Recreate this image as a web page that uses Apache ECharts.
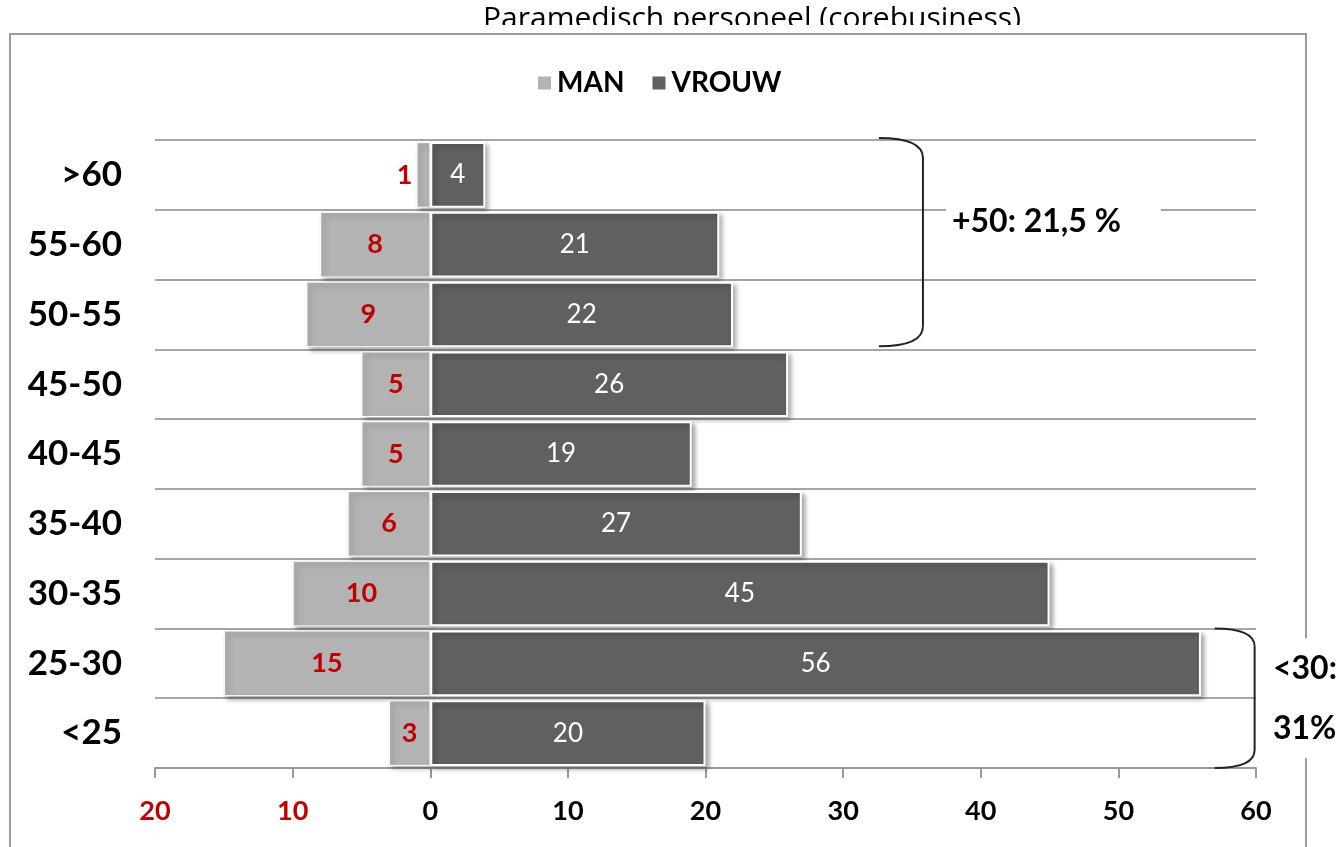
<!DOCTYPE html>
<html>
<head>
<meta charset="utf-8">
<style>
  html, body { margin: 0; padding: 0; background: #fff; }
  #chart { width: 1344px; height: 847px; }
</style>
<script src="https://cdn.jsdelivr.net/npm/echarts@6/dist/echarts.min.js"></script>
</head>
<body>
<div id="chart"></div>
<script>
var categories = ['>60', '55-60', '50-55', '45-50', '40-45', '35-40', '30-35', '25-30', '<25'];
var man = [1, 8, 9, 5, 5, 6, 10, 15, 3];
var vrouw = [4, 21, 22, 26, 19, 27, 45, 56, 20];
var xMin = -20, xMax = 60, xStep = 10;

var RED = '#c00000';
var FONT = 'Lato, "Open Sans", sans-serif';

var chart = echarts.init(document.getElementById('chart'));

var barShadow = {
    shadowColor: 'rgba(0,0,0,0.35)',
    shadowBlur: 5,
    shadowOffsetX: 3,
    shadowOffsetY: 3
};

var option = {
    animation: false,
    legend: {
        left: 531,
        top: 64,
        itemWidth: 15,
        itemHeight: 15,
        itemGap: 26,
        icon: 'rect',
        textStyle: { fontFamily: FONT, fontWeight: 'bold', fontSize: 28, color: '#000' },
        data: ['MAN', 'VROUW']
    },
    grid: { left: 155, right: 88, top: 140, bottom: 79, containLabel: false },
    xAxis: {
        type: 'value',
        min: xMin,
        max: xMax,
        interval: xStep,
        axisLine: { show: true, lineStyle: { color: '#9a9a9a', width: 2 } },
        axisTick: { show: true, length: 10, lineStyle: { color: '#9a9a9a', width: 2 } },
        splitLine: { show: false },
        axisLabel: {
            margin: 30,
            fontFamily: FONT,
            fontWeight: 'bold',
            fontSize: 27,
            formatter: function (v) { return Math.abs(v); },
            color: function (v) { return v < 0 ? RED : '#000'; }
        }
    },
    yAxis: {
        type: 'category',
        inverse: true,
        data: categories,
        axisLine: { show: false },
        axisTick: { show: false },
        splitLine: { show: true, lineStyle: { color: '#a6a6a6', width: 2 } },
        axisLabel: {
            margin: 33,
            fontFamily: FONT,
            fontWeight: 'bold',
            fontSize: 35,
            color: '#000'
        }
    },
    series: [
        {
            name: 'MAN',
            type: 'bar',
            barGap: '-100%',
            barCategoryGap: '6%',
            itemStyle: Object.assign({ color: '#b3b3b3', borderColor: '#fff', borderWidth: 1 }, barShadow),
            label: {
                show: true,
                position: 'inside',
                fontFamily: FONT,
                fontWeight: 'bold',
                fontSize: 27,
                color: RED,
                formatter: function (p) { return Math.abs(p.value); }
            },
            data: man.map(function (v) {
                var item = { value: -v };
                if (v < 2) item.label = { position: 'left', distance: 4 };
                return item;
            })
        },
        {
            name: 'VROUW',
            type: 'bar',
            barGap: '-100%',
            barCategoryGap: '6%',
            itemStyle: Object.assign({ color: '#606060', borderColor: '#fff', borderWidth: 2 }, barShadow),
            label: {
                show: true,
                position: 'inside',
                fontFamily: FONT,
                fontSize: 26,
                color: '#fff'
            },
            data: vrouw
        }
    ]
};

chart.setOption(option);

// decorations: frame, clipped title, brackets with notes
function xp(v) { return chart.convertToPixel({ xAxisIndex: 0 }, v); }
function yp(i) { return chart.convertToPixel({ yAxisIndex: 0 }, categories[i]); }

var band = yp(1) - yp(0);
function bandTop(i) { return yp(i) - band / 2; }
function bandBottom(i) { return yp(i) + band / 2; }

function brace(x0, x1, yTop, yBot, r) {
    var st = { fill: 'none', stroke: '#222', lineWidth: 2 };
    return [
        { type: 'bezierCurve', z: 5, silent: true, style: st,
          shape: { x1: x0, y1: yTop, cpx1: x1, cpy1: yTop, x2: x1, y2: yTop + r } },
        { type: 'line', z: 5, silent: true, style: st,
          shape: { x1: x1, y1: yTop + r, x2: x1, y2: yBot - r } },
        { type: 'bezierCurve', z: 5, silent: true, style: st,
          shape: { x1: x1, y1: yBot - r, cpx1: x1, cpy1: yBot, x2: x0, y2: yBot } }
    ];
}

var graphics = [
    {
        type: 'text', z: 1, silent: true,
        x: 752, y: 19,
        style: {
            text: 'Paramedisch personeel (corebusiness)',
            fontFamily: '"Open Sans", sans-serif',
            fontSize: 30,
            fill: '#000',
            align: 'center',
            verticalAlign: 'middle'
        }
    },
    {
        type: 'rect', z: 2, silent: true,
        shape: { x: 400, y: 25, width: 700, height: 20 },
        style: { fill: '#fff' }
    },
    {
        type: 'rect', z: 3, silent: true,
        shape: { x: 10, y: 34, width: 1296, height: 900 },
        style: { fill: 'none', stroke: '#9a9a9a', lineWidth: 2 }
    },
    {
        type: 'text', z: 6, silent: true,
        x: 946, y: bandBottom(0) + 12,
        style: {
            text: '+50: 21,5 %',
            fontFamily: FONT,
            fontWeight: 'bold',
            fontSize: 32,
            fill: '#000',
            verticalAlign: 'middle',
            backgroundColor: '#fff',
            padding: [6, 40, 6, 6]
        }
    },
    {
        type: 'text', z: 6, silent: true,
        x: 1273, y: (yp(7) + yp(8)) / 2,
        style: {
            text: '<30:\n31%',
            fontFamily: FONT,
            fontWeight: 'bold',
            fontSize: 32,
            lineHeight: 60,
            fill: '#000',
            verticalAlign: 'middle',
            backgroundColor: '#fff'
        }
    }
];

graphics = graphics
    .concat(brace(xp(32.6), xp(35.8), bandTop(0) - 2, bandBottom(2) - 3, 20))
    .concat(brace(xp(57), xp(59.9), bandTop(7), bandBottom(8), 18));

chart.setOption({ graphic: graphics });
</script>
</body>
</html>
